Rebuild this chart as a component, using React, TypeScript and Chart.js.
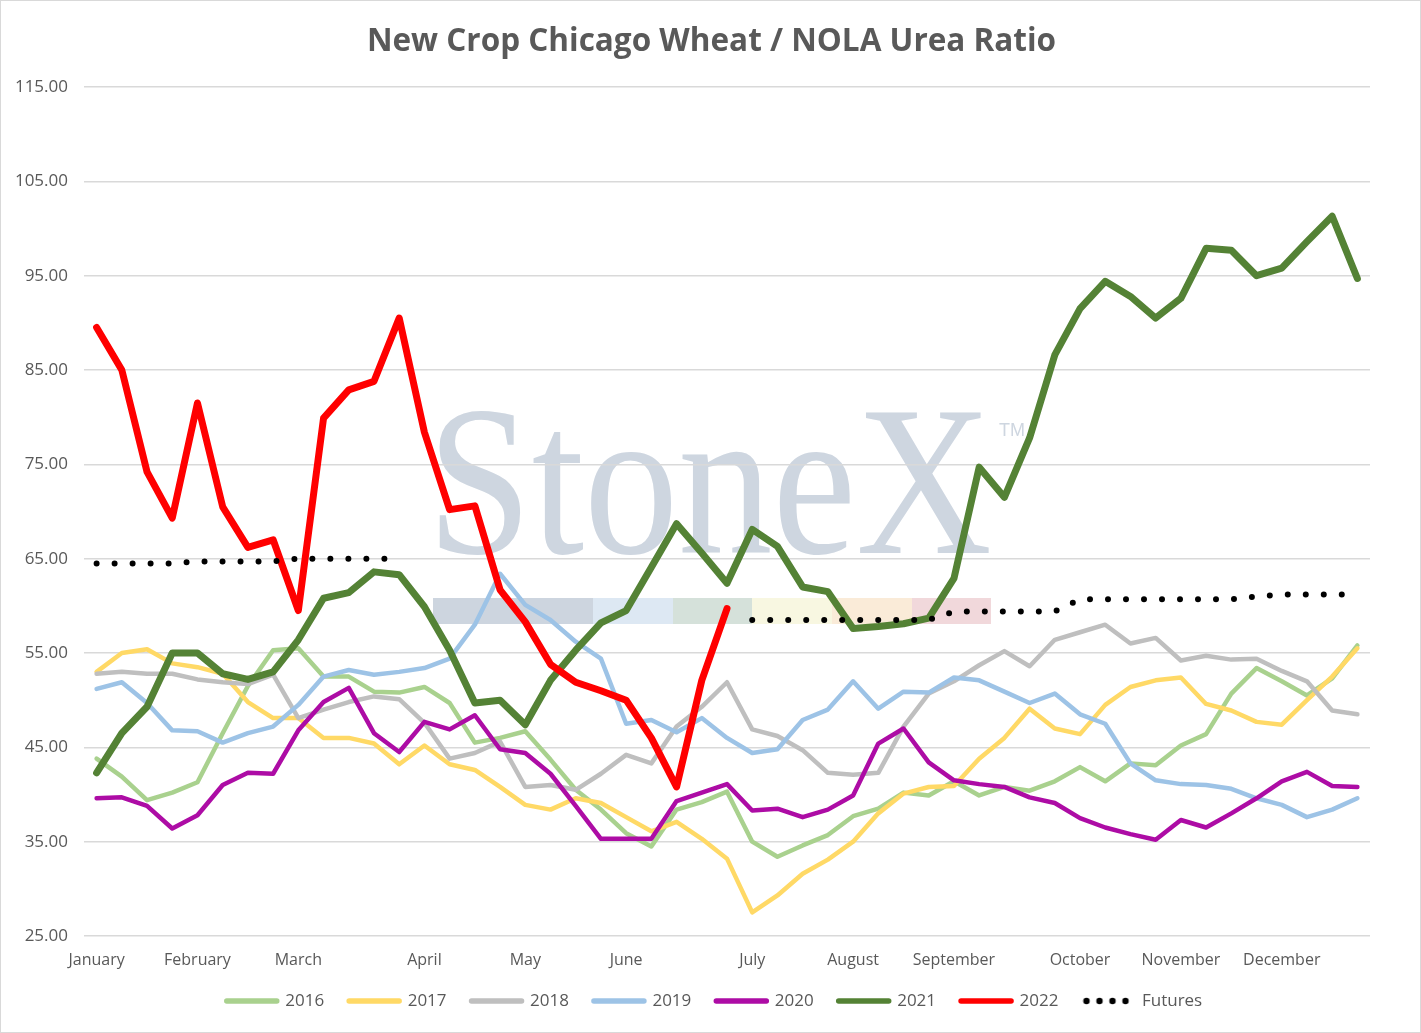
import React, { useEffect, useRef } from 'react';
import { Chart, registerables } from 'chart.js';

Chart.register(...registerables);

// 51 weekly categories, labelled at the first week of each month
const categories = [
  'January', '', '', '',
  'February', '', '', '',
  'March', '', '', '', '',
  'April', '', '', '',
  'May', '', '', '',
  'June', '', '', '', '',
  'July', '', '', '',
  'August', '', '', '',
  'September', '', '', '', '',
  'October', '', '', '',
  'November', '', '', '',
  'December', '', '', '',
];

const yMin = 25;
const yMax = 115;
const yStep = 10;

const s2016 = [43.8, 41.9, 39.4, 40.2, 41.3, 46.5, 51.5, 55.3, 55.5, 52.5, 52.5, 50.9, 50.8, 51.4, 49.7, 45.5, 46.0, 46.7, 43.7, 40.5, 38.4, 35.9, 34.5, 38.4, 39.2, 40.3, 35.0, 33.4, 34.6, 35.7, 37.7, 38.5, 40.2, 39.9, 41.4, 39.9, 40.8, 40.4, 41.4, 42.9, 41.4, 43.3, 43.1, 45.2, 46.4, 50.7, 53.4, 52.0, 50.5, 52.3, 55.8];
const s2017 = [53.0, 55.0, 55.4, 53.9, 53.5, 52.8, 49.8, 48.1, 48.1, 46.0, 46.0, 45.4, 43.2, 45.2, 43.2, 42.6, 40.8, 38.9, 38.4, 39.6, 39.1, 37.6, 36.1, 37.1, 35.3, 33.2, 27.5, 29.3, 31.6, 33.1, 35.0, 38.0, 40.1, 40.8, 40.9, 43.8, 46.0, 49.1, 47.0, 46.4, 49.5, 51.4, 52.1, 52.4, 49.6, 48.9, 47.7, 47.4, 50.0, 52.5, 55.5];
const s2018 = [52.8, 53.0, 52.8, 52.8, 52.2, 51.9, 51.7, 52.7, 48.1, 49.0, 49.8, 50.4, 50.1, 47.6, 43.8, 44.4, 45.6, 40.8, 41.0, 40.5, 42.2, 44.2, 43.3, 47.2, 49.3, 51.9, 46.9, 46.2, 44.7, 42.3, 42.1, 42.3, 47.2, 50.7, 52.0, 53.7, 55.2, 53.6, 56.4, 57.2, 58.0, 56.0, 56.6, 54.2, 54.7, 54.3, 54.4, 53.1, 52.0, 48.9, 48.5];
const s2019 = [51.2, 51.9, 49.7, 46.8, 46.7, 45.5, 46.5, 47.2, 49.5, 52.5, 53.2, 52.7, 53.0, 53.4, 54.4, 58.0, 63.4, 60.1, 58.5, 56.2, 54.4, 47.5, 47.9, 46.6, 48.1, 46.0, 44.4, 44.8, 47.9, 49.0, 52.0, 49.1, 50.9, 50.8, 52.4, 52.1, 50.9, 49.7, 50.7, 48.5, 47.5, 43.3, 41.5, 41.1, 41.0, 40.6, 39.6, 38.9, 37.6, 38.4, 39.6];
const s2020 = [39.6, 39.7, 38.8, 36.4, 37.8, 41.0, 42.3, 42.2, 46.8, 49.8, 51.3, 46.5, 44.5, 47.7, 46.9, 48.4, 44.8, 44.4, 42.2, 38.8, 35.3, 35.3, 35.3, 39.3, 40.2, 41.1, 38.3, 38.5, 37.6, 38.4, 39.9, 45.4, 47.0, 43.4, 41.5, 41.1, 40.8, 39.7, 39.1, 37.5, 36.5, 35.8, 35.2, 37.3, 36.5, 38.0, 39.6, 41.4, 42.4, 40.9, 40.8];
const s2021 = [42.3, 46.5, 49.3, 55.0, 55.0, 52.8, 52.2, 53.0, 56.4, 60.8, 61.4, 63.6, 63.3, 59.9, 55.3, 49.7, 50.0, 47.4, 52.1, 55.3, 58.2, 59.5, 64.1, 68.7, 65.6, 62.4, 68.1, 66.3, 62.0, 61.5, 57.6, 57.8, 58.1, 58.7, 62.9, 74.7, 71.5, 77.8, 86.6, 91.5, 94.4, 92.8, 90.5, 92.6, 97.9, 97.7, 95.0, 95.8, 98.6, 101.3, 94.7];
const s2022 = [89.5, 85.0, 74.2, 69.3, 81.5, 70.5, 66.2, 67.0, 59.5, 79.9, 82.9, 83.8, 90.5, 78.4, 70.2, 70.6, 61.7, 58.3, 53.8, 51.9, 51.0, 50.0, 46.0, 40.8, 52.1, 59.7];
const futures = [64.5, 64.5, 64.5, 64.5, 64.7, 64.7, 64.7, 64.7, 65.0, 65.0, 65.0, 65.0, 65.0, null, null, null, null, null, null, null, null, null, null, null, null, null, 58.5, 58.5, 58.5, 58.5, 58.5, 58.5, 58.5, 58.5, 59.4, 59.4, 59.4, 59.4, 59.4, 60.7, 60.7, 60.7, 60.7, 60.7, 60.7, 60.7, 61.0, 61.2, 61.2, 61.2, 61.2];

const seriesNames = ['2016', '2017', '2018', '2019', '2020', '2021', '2022', 'Futures'];
const seriesColors = ['#A9D18E', '#FFD966', '#BFBFBF', '#9DC3E6', '#AD0CA5', '#548235', '#FF0000', '#000000'];

const TEXT = '#595959';
const FONT = "'Open Sans', 'Liberation Sans', sans-serif";

const watermarkPlugin = {
  id: 'stonexWatermark',
  beforeDraw(chart: any) {
    const { ctx, chartArea } = chart;
    const L = chartArea.left;
    const T = chartArea.top;
    ctx.save();
    // colour band under the logo
    const band: [number, number, string][] = [
      [349, 509, '#CDD5DF'],
      [509, 589, '#DDE8F3'],
      [589, 668, '#D5E1DA'],
      [668, 748, '#F8F7E1'],
      [748, 828, '#FAEBD8'],
      [828, 907, '#F1D8DB'],
    ];
    for (const [a, b, c] of band) {
      ctx.fillStyle = c;
      ctx.fillRect(L + a, T + 511, b - a, 26);
    }
    ctx.fillStyle = '#CED6E0';
    ctx.font = "215px 'Liberation Serif', 'DejaVu Serif', serif";
    ctx.textBaseline = 'alphabetic';
    ctx.textAlign = 'left';
    ctx.fillText('StoneX', L + 343, T + 466, 565);
    ctx.font = "18px 'Liberation Sans', sans-serif";
    ctx.fillText('TM', L + 915, T + 349);
    ctx.restore();
  },
};

// nudges title / legend to the horizontal centre used by the original
const boxNudgePlugin = {
  id: 'boxNudge',
  afterLayout(chart: any) {
    const lg = chart.legend;
    if (lg) {
      lg.left += 29;
      lg.right += 29;
      lg.top -= 8.5;
      lg.bottom -= 8.5;
    }
    const tb = chart.titleBlock;
    if (tb) {
      tb.left += 26;
      tb.right += 26;
    }
  },
};

export default function App() {
  const ref = useRef<HTMLCanvasElement>(null);

  useEffect(() => {
    document.body.style.margin = '0';
    const canvas = ref.current!;

    const dots = document.createElement('canvas');
    dots.width = 52;
    dots.height = 8;
    const dc = dots.getContext('2d')!;
    dc.fillStyle = '#000';
    for (const x of [4, 17, 30, 43]) {
      dc.beginPath();
      dc.arc(x, 4, 3.2, 0, Math.PI * 2);
      dc.fill();
    }

    const allData = [s2016, s2017, s2018, s2019, s2020, s2021, s2022, futures];
    const widths = [4.5, 4.5, 4.5, 4.5, 4.5, 7, 7, 6];

    const datasets = allData.map((d, i) => ({
      label: seriesNames[i],
      data: d,
      borderColor: seriesColors[i],
      backgroundColor: seriesColors[i],
      borderWidth: widths[i],
      pointRadius: 0,
      pointHoverRadius: 0,
      borderJoinStyle: 'round' as const,
      borderCapStyle: 'round' as const,
      borderDash: i === 7 ? [0, 18] : [],
      tension: 0,
      fill: false,
      spanGaps: false,
      order: 7 - i,
    }));

    const chart = new Chart(canvas, {
      type: 'line',
      data: { labels: categories, datasets },
      plugins: [watermarkPlugin, boxNudgePlugin],
      options: {
        animation: false,
        responsive: true,
        maintainAspectRatio: false,
        events: [],
        layout: { padding: { left: 0, right: 50, top: 0, bottom: 4 } },
        plugins: {
          tooltip: { enabled: false },
          title: {
            display: true,
            text: 'New Crop Chicago Wheat / NOLA Urea Ratio',
            color: TEXT,
            font: { family: FONT, size: 31.5, weight: 'bold' },
            padding: { top: 22.2, bottom: 26.0 },
          },
          legend: {
            position: 'bottom',
            labels: {
              usePointStyle: true,
              pointStyleWidth: 50,
              boxHeight: 8,
              padding: 25,
              color: TEXT,
              font: { family: FONT, size: 17 },
              generateLabels: () =>
                seriesNames.map((name, i) => ({
                  text: name,
                  fillStyle: seriesColors[i],
                  strokeStyle: seriesColors[i],
                  lineWidth: 5.5,
                  lineCap: 'round',
                  pointStyle: i === 7 ? dots : 'line',
                  hidden: false,
                  datasetIndex: i,
                  fontColor: TEXT,
                })) as any,
            },
          },
        },
        scales: {
          x: {
            type: 'category',
            offset: true,
            grid: { display: false, drawTicks: false },
            border: { display: false },
            ticks: {
              autoSkip: false,
              maxRotation: 0,
              minRotation: 0,
              padding: 15,
              color: TEXT,
              font: { family: FONT, size: 16 },
            },
            afterFit: (scale: any) => {
              scale.height = 40;
            },
          },
          y: {
            min: yMin,
            max: yMax,
            grid: { color: '#D9D9D9', lineWidth: 1.5, drawTicks: false },
            border: { display: false },
            ticks: {
              stepSize: yStep,
              padding: 16,
              color: TEXT,
              font: { family: FONT, size: 17 },
              callback: (v: any) => Number(v).toFixed(2),
            },
            afterFit: (scale: any) => {
              scale.width = 83;
            },
          },
        },
      },
    });

    return () => chart.destroy();
  }, []);

  return (
    <div
      style={{
        width: 1421,
        height: 1033,
        boxSizing: 'border-box',
        border: '1px solid #D9D9D9',
        position: 'relative',
        background: '#fff',
      }}
    >
      <canvas ref={ref} />
    </div>
  );
}
